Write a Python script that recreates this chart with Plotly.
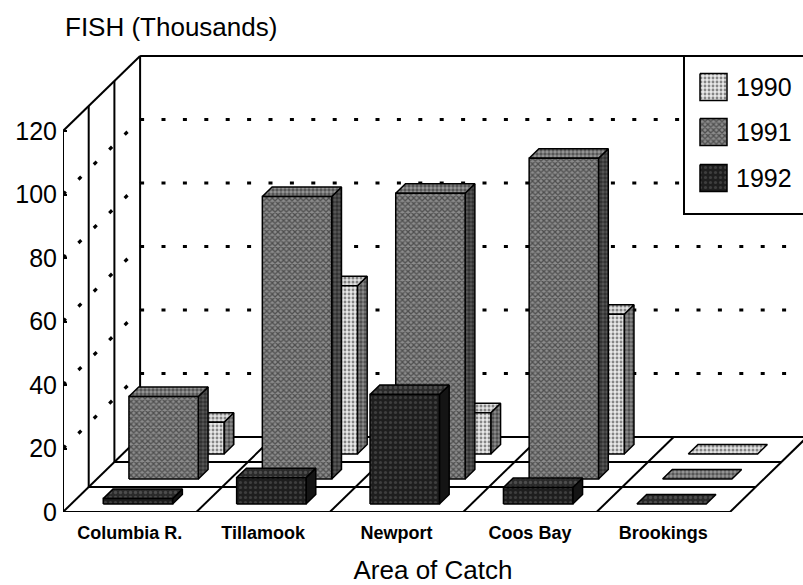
import plotly.graph_objects as go

# ---------------- data ----------------
categories = ["Columbia R.", "Tillamook", "Newport", "Coos Bay", "Brookings"]
years = ["1990", "1991", "1992"]
fish_1990 = [10, 53, 13, 44, 0]
fish_1991 = [26, 89, 90, 101, 0]
fish_1992 = [1.7, 8.3, 34.5, 5.2, 0]
y_ticks = [0, 20, 40, 60, 80, 100, 120]

# ---------------- geometry (layout only) ----------------
W, H = 803, 585
ML, MB = 63, 73
PX_X = 133.4           # px per category
PX_Y = 3.175           # px per value unit
ROW_DX = 25.7 / PX_X   # oblique depth offset per row, x units
ROW_DY = 25.0 / PX_Y   # oblique depth offset per row, value units
NROWS = 3
BAR_W = 0.52
BAR_F0 = 0.32
BAR_D = 0.38
YTOP = 120
x_lo = -0.5
x_hi = -0.5 + (W - ML) / PX_X
y_hi = (H - MB) / PX_Y
FONT = "Liberation Sans, Arial, Helvetica, sans-serif"

fig = go.Figure()


def add_lines(segs, width=2, dash=None, color="black", xa="x", ya="y"):
    xs, ys = [], []
    for (a, b) in segs:
        xs += [a[0], b[0], None]
        ys += [a[1], b[1], None]
    fig.add_trace(go.Scatter(x=xs, y=ys, mode="lines",
                             line=dict(color=color, width=width, dash=dash),
                             hoverinfo="skip", showlegend=False, cliponaxis=False,
                             xaxis=xa, yaxis=ya))


def add_polys(polys, fillcolor, pattern=None, width=1.5, xa="x", ya="y"):
    if not polys:
        return
    xs, ys = [], []
    for p in polys:
        for (a, b) in p:
            xs.append(a)
            ys.append(b)
        xs += [p[0][0], None]
        ys += [p[0][1], None]
    kw = {}
    if pattern:
        kw["fillpattern"] = pattern
    fig.add_trace(go.Scatter(x=xs, y=ys, mode="lines", fill="toself",
                             fillcolor=fillcolor,
                             line=dict(color="black", width=width),
                             hoverinfo="skip", showlegend=False, cliponaxis=False,
                             xaxis=xa, yaxis=ya, **kw))


# ---------------- walls & floor ----------------
back_dx = NROWS * ROW_DX
back_dy = NROWS * ROW_DY
ncat = len(categories)
x_right = ncat - 0.5

dots_side, dots_back = [], []
for v in y_ticks[1:-1]:
    dots_side.append(((x_lo, v), (x_lo + back_dx, v + back_dy)))
    dots_back.append(((x_lo + back_dx, v + back_dy), (x_hi + 0.2, v + back_dy)))
add_lines(dots_side, width=3.2, dash="4px,17.5px")
add_lines(dots_back, width=3.2, dash="4px,17.4px")

segs = []
for r in range(NROWS + 1):
    segs.append(((x_lo + r * ROW_DX, r * ROW_DY), (x_lo + r * ROW_DX, YTOP + r * ROW_DY)))
segs.append(((x_lo, YTOP), (x_lo + back_dx, YTOP + back_dy)))
segs.append(((x_lo + back_dx, YTOP + back_dy), (x_hi + 0.2, YTOP + back_dy)))
for r in range(NROWS + 1):
    segs.append(((x_lo + r * ROW_DX, r * ROW_DY), (x_right + r * ROW_DX, r * ROW_DY)))
for i in range(ncat + 1):
    segs.append(((i - 0.5, 0), (i - 0.5 + back_dx, back_dy)))
add_lines(segs, width=2)

# ---------------- bars ----------------
styles = {
    "1990": dict(
        front=("#d8d8d8", dict(shape=".", bgcolor="#e8e8e8", fgcolor="#222222", size=4, solidity=0.4)),
        top=("#d0d0d0", dict(shape=".", bgcolor="#e2e2e2", fgcolor="#222222", size=4, solidity=0.45)),
        side=("#7a7a7a", dict(shape=".", bgcolor="#8c8c8c", fgcolor="#111111", size=4, solidity=0.55)),
    ),
    "1991": dict(
        front=("#5c5c5c", dict(shape="x", bgcolor="#8c8c8c", fgcolor="#111111", size=4, solidity=0.55)),
        top=("#6a6a6a", dict(shape=".", bgcolor="#9a9a9a", fgcolor="#111111", size=4, solidity=0.6)),
        side=("#404040", dict(shape=".", bgcolor="#5a5a5a", fgcolor="#0a0a0a", size=4, solidity=0.65)),
    ),
    "1992": dict(
        front=("#262626", dict(shape=".", bgcolor="#1e1e1e", fgcolor="#5e5e5e", size=5, solidity=0.3)),
        top=("#333333", dict(shape=".", bgcolor="#2a2a2a", fgcolor="#707070", size=5, solidity=0.35)),
        side=("#141414", None),
    ),
}

series = [("1990", fish_1990, 2), ("1991", fish_1991, 1), ("1992", fish_1992, 0)]
bx = BAR_D * ROW_DX
by = BAR_D * ROW_DY
for name, vals, r in series:
    fronts, tops, sides = [], [], []
    d0 = r + BAR_F0
    for i, v in enumerate(vals):
        x0 = i - BAR_W / 2 + d0 * ROW_DX
        y0 = d0 * ROW_DY
        x1 = x0 + BAR_W
        tops.append([(x0, y0 + v), (x1, y0 + v), (x1 + bx, y0 + v + by), (x0 + bx, y0 + v + by)])
        if v > 0:
            fronts.append([(x0, y0), (x1, y0), (x1, y0 + v), (x0, y0 + v)])
            sides.append([(x1, y0), (x1 + bx, y0 + by), (x1 + bx, y0 + v + by), (x1, y0 + v)])
    st = styles[name]
    w = 1.5 if any(v > 0 for v in vals) else 2
    add_polys(sides, st["side"][0], st["side"][1])
    add_polys(tops, st["top"][0], st["top"][1], width=w)
    add_polys(fronts, st["front"][0], st["front"][1])

# ---------------- legend (pixel overlay axes) ----------------
LEG_X0, LEG_X1, LEG_Y0, LEG_Y1 = 684, 815, 56, 214
add_polys([[(LEG_X0, LEG_Y0), (LEG_X1, LEG_Y0), (LEG_X1, LEG_Y1), (LEG_X0, LEG_Y1)]],
          "white", None, width=2, xa="x2", ya="y2")
leg_cy = [87, 132, 178]
SW = 27
for name, cy in zip(years, leg_cy):
    st = styles[name]["front"]
    add_polys([[(700, cy - SW / 2), (700 + SW, cy - SW / 2), (700 + SW, cy + SW / 2), (700, cy + SW / 2)]],
              st[0], st[1], width=1.5, xa="x2", ya="y2")
    fig.add_annotation(x=734, y=cy, xref="x2", yref="y2", text=name, showarrow=False,
                       xanchor="left", yanchor="middle",
                       font=dict(family=FONT, size=25, color="black"))

# ---------------- titles ----------------
fig.add_annotation(x=0, y=1 - 27 / (H - MB), xref="paper", yref="paper",
                   text="FISH (Thousands)", showarrow=False, xanchor="left", yanchor="middle",
                   font=dict(family=FONT, size=26, color="black"))

fig.update_layout(
    width=W, height=H,
    margin=dict(l=ML, r=0, t=0, b=MB, autoexpand=False),
    paper_bgcolor="white", plot_bgcolor="white",
    showlegend=False,
    xaxis=dict(range=[x_lo, x_hi], tickvals=list(range(ncat)), ticktext=categories,
               showgrid=False, zeroline=False, showline=False, ticks="",
               tickfont=dict(family=FONT, size=18, color="black", weight="bold"),
               ticklabelstandoff=8,
               title=dict(text="Area of Catch", font=dict(family=FONT, size=26, color="black"),
                          standoff=20)),
    yaxis=dict(range=[0, y_hi], tickvals=y_ticks, showgrid=False, zeroline=False,
               showline=False, ticks="inside", ticklen=4, tickwidth=2, tickcolor="black",
               tickfont=dict(family=FONT, size=25, color="black"), ticklabelstandoff=5),
    xaxis2=dict(overlaying="x", anchor="y2", range=[ML, W], visible=False),
    yaxis2=dict(overlaying="y", anchor="x2", range=[H - MB, 0], visible=False),
)

fig.write_html("out.html", config={"displayModeBar": False, "staticPlot": True},
               post_script="document.body.style.margin='0px';document.body.style.overflow='hidden';")
